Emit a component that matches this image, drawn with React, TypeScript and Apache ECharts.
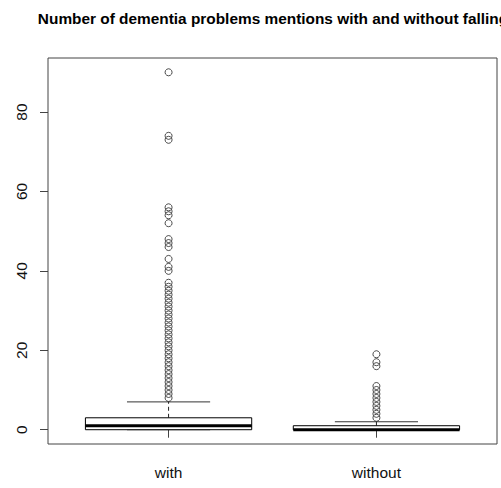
import React, { useEffect, useRef } from "react";
import * as echarts from "echarts";

const titleText = "Number of dementia problems mentions with and without falling";
const categories = ["with", "without"];
// [lower whisker, Q1, median, Q3, upper whisker]
const withStats = [0, 0, 1, 3, 7];
const withoutStats = [0, 0, 0, 1, 2];
const withOutliers = [
  90, 74, 73, 56, 55, 54, 52, 48, 47, 46, 43, 41, 40, 37, 36, 35, 34, 33, 32, 31,
  30, 29, 28, 27, 26, 25, 24, 23, 22, 21, 20, 19, 18, 17, 16, 15, 14, 13, 12, 11,
  10, 9, 8,
];
const withoutOutliers = [19, 17, 16, 11, 10, 9, 8, 7, 6, 5, 4, 3];
const yTicks = [0, 20, 40, 60, 80];
const xTicks = [1, 2];

const FONT = "'Liberation Sans', Arial, sans-serif";

export default function App() {
  const ref = useRef<HTMLDivElement>(null);

  useEffect(() => {
    if (!ref.current) return;
    const chart = echarts.init(ref.current, undefined, { renderer: "svg" });

    const boxData = [
      [1, ...withStats],
      [2, ...withoutStats],
    ];
    const outlierData = [
      ...withOutliers.map((v) => [1, v]),
      ...withoutOutliers.map((v) => [2, v]),
    ];

    const option: any = {
      animation: false,
      backgroundColor: "#ffffff",
      graphic: [
        {
          type: "text",
          x: 273,
          y: 18.5,
          style: {
            text: titleText,
            font: `bold 15.4px ${FONT}`,
            fill: "#000",
            textAlign: "center",
            textVerticalAlign: "middle",
          },
        },
      ],
      grid: {
        left: 48,
        right: 4,
        top: 58,
        bottom: 44,
        show: true,
        borderColor: "#444",
        borderWidth: 1,
        backgroundColor: "transparent",
      },
      xAxis: {
        type: "value",
        min: 0.42,
        max: 2.58,
        axisLine: { show: false },
        splitLine: { show: false },
        axisTick: {
          show: true,
          length: 8,
          customValues: xTicks,
          lineStyle: { color: "#444", width: 1 },
        },
        axisLabel: {
          customValues: xTicks,
          formatter: (v: number) => categories[Math.round(v) - 1] ?? "",
          margin: 20,
          fontFamily: FONT,
          fontSize: 15.5,
          color: "#111",
        },
      },
      yAxis: {
        type: "value",
        min: -3.6,
        max: 93.6,
        axisLine: { show: false },
        splitLine: { show: false },
        axisTick: {
          show: true,
          length: 8,
          customValues: yTicks,
          lineStyle: { color: "#444", width: 1 },
        },
        axisLabel: {
          customValues: yTicks,
          rotate: 90,
          margin: 19,
          fontFamily: FONT,
          fontSize: 15.5,
          color: "#111",
        },
      },
      series: [
        {
          type: "custom",
          data: boxData,
          encode: { x: 0, y: [1, 2, 3, 4, 5] },
          renderItem: (params: any, api: any) => {
            const x = api.value(0);
            const lo = api.value(1);
            const q1 = api.value(2);
            const med = api.value(3);
            const q3 = api.value(4);
            const hi = api.value(5);
            const hw = 0.4;
            const cw = 0.2;
            const tl = api.coord([x - hw, q3]);
            const br = api.coord([x + hw, q1]);
            const mL = api.coord([x - hw, med]);
            const mR = api.coord([x + hw, med]);
            const pQ3 = api.coord([x, q3]);
            const pHi = api.coord([x, hi]);
            const pQ1 = api.coord([x, q1]);
            const pLo = api.coord([x, lo]);
            const cHiL = api.coord([x - cw, hi]);
            const cHiR = api.coord([x + cw, hi]);
            const cLoL = api.coord([x - cw, lo]);
            const cLoR = api.coord([x + cw, lo]);
            const whiskerStyle = { stroke: "#222", lineWidth: 1, lineDash: [4, 3] };
            return {
              type: "group",
              children: [
                {
                  type: "line",
                  shape: { x1: pQ3[0], y1: pQ3[1], x2: pHi[0], y2: pHi[1] },
                  style: whiskerStyle,
                },
                {
                  type: "line",
                  shape: { x1: pQ1[0], y1: pQ1[1], x2: pLo[0], y2: pLo[1] },
                  style: whiskerStyle,
                },
                {
                  type: "line",
                  shape: { x1: cHiL[0], y1: cHiL[1], x2: cHiR[0], y2: cHiR[1] },
                  style: { stroke: "#333", lineWidth: 1 },
                },
                {
                  type: "line",
                  shape: { x1: cLoL[0], y1: cLoL[1], x2: cLoR[0], y2: cLoR[1] },
                  style: { stroke: "#333", lineWidth: 1 },
                },
                {
                  type: "rect",
                  shape: {
                    x: tl[0],
                    y: tl[1],
                    width: br[0] - tl[0],
                    height: br[1] - tl[1],
                  },
                  style: { fill: "#fff", stroke: "#000", lineWidth: 1 },
                },
                {
                  type: "line",
                  shape: { x1: mL[0], y1: mL[1], x2: mR[0], y2: mR[1] },
                  style: { stroke: "#000", lineWidth: 3 },
                },
              ],
            };
          },
          z: 2,
        },
        {
          type: "scatter",
          data: outlierData,
          symbol: "circle",
          symbolSize: 7,
          itemStyle: {
            color: "rgba(255,255,255,0)",
            borderColor: "#222",
            borderWidth: 1,
          },
          z: 3,
        },
      ],
    };

    chart.setOption(option);
    return () => chart.dispose();
  }, []);

  return (
    <div
      ref={ref}
      style={{ position: "absolute", left: 0, top: 0, width: 501, height: 488 }}
    />
  );
}
